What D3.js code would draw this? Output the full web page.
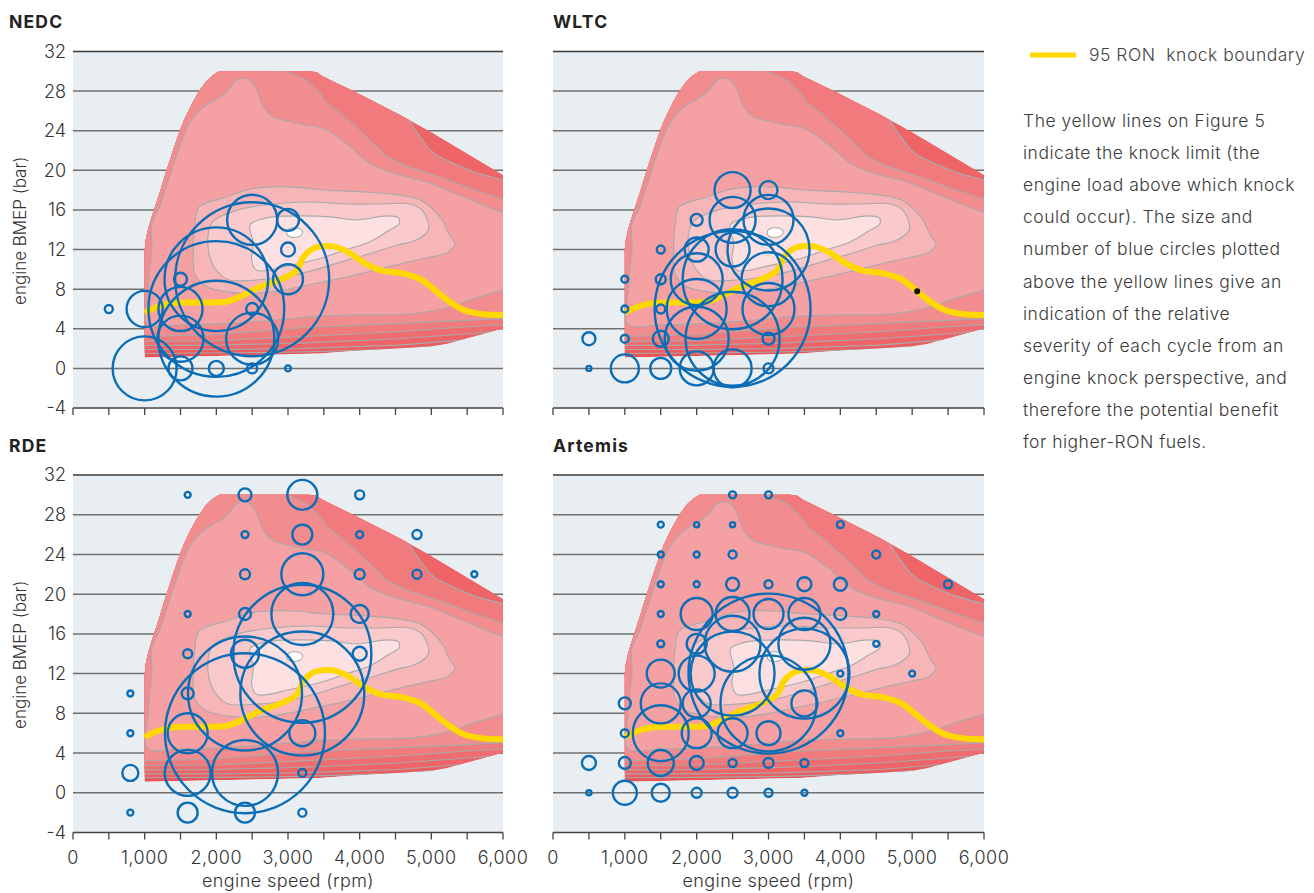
<!DOCTYPE html>
<html><head><meta charset="utf-8">
<script src="https://cdn.jsdelivr.net/npm/d3@7"></script>
<style>
body{margin:0;background:#fff;}
svg text{font-family:"Inter","Open Sans",sans-serif;font-weight:300;}
</style></head><body>
<svg id="chart" width="1314" height="893"></svg>
<script>
// ---------------- DATA ----------------
const panelNames = ["NEDC", "WLTC", "RDE", "Artemis"];
const xTickValues = [0, 1000, 2000, 3000, 4000, 5000, 6000];
const xMinorTickValues = [0, 500, 1000, 1500, 2000, 2500, 3000, 3500, 4000, 4500, 5000, 5500, 6000];
const yTickValues = [-4, 0, 4, 8, 12, 16, 20, 24, 28, 32];
const xAxisTitle = "engine speed (rpm)";
const yAxisTitle = "engine BMEP (bar)";
const legendLabel = "95 RON  knock boundary";
const noteLines = [
  "The yellow lines on Figure 5",
  "indicate the knock limit (the",
  "engine load above which knock",
  "could occur). The size and",
  "number of blue circles plotted",
  "above the yellow lines give an",
  "indication of the relative",
  "severity of each cycle from an",
  "engine knock perspective, and",
  "therefore the potential benefit",
  "for higher-RON fuels."
];

// 95 RON knock boundary [rpm, bar]
const knockRpm  = [1000, 1170, 1400, 1800, 2150, 2350, 2600, 2935, 3120, 3220, 3350, 3500, 3650, 3850, 4100, 4300, 4600, 4850, 5000, 5220, 5450, 5700, 6000];
const knockBmep = [5.6, 6.2, 6.6, 6.65, 6.75, 7.3, 8.2, 9.1, 9.9, 11.3, 12.1, 12.35, 12.3, 11.7, 10.5, 9.9, 9.6, 9.0, 8.2, 6.9, 5.9, 5.5, 5.4];

// engine map contours [rpm, bar]
const mapEnvelope = [[1000,1.1],[1000,12],[1015,13],[1045,14],[1085,15],[1130,16],[1175,17],[1220,18],[1262,19],[1305,20],[1350,21],[1395,22],[1442,23],[1490,24],[1545,25],[1610,26],[1680,27],[1760,28],[1860,29],[1950,29.6],[2040,30],[3300,30],[3400,29.9],[3480,29.5],[3935,27.9],[4563,25.6],[4981,23.9],[6000,19.5],[6000,4.05],[5214,2.5],[4981,2.2],[4000,1.8],[3446,1.5],[2000,1.25],[1000,1.1]];
const mapLineD1 = [[4500,27.5],[4680,25.2],[4760,24.2],[4842,23.4],[4950,22.3],[5075,21.5],[5307,20.7],[5600,19.8],[6000,19.0],[6200,18.8]];
const mapLineD2 = [[2900,31],[2980,30],[3260,29.1],[3446,27.8],[3540,26.8],[3725,25.8],[4051,23.7],[4377,21.4],[4656,20.4],[5121,19.3],[5540,18.2],[6000,17.1],[6200,17.0]];
const mapLineLb = [[800,3.2],[2000,3.4],[3160,4.1],[4550,4.55],[5500,4.85],[6200,5.1]];
const mapLineE4 = [[800,2.7],[2000,2.8],[3160,3.2],[4550,3.7],[5500,4.2],[6200,4.5]];
const mapLineE3 = [[800,2.3],[2000,2.35],[3160,2.55],[4550,3.0],[5500,3.5],[6200,3.9]];
const mapLineE2 = [[800,1.9],[2000,1.9],[3160,2.0],[4550,2.35],[5500,2.9],[6200,3.3]];
const mapLineE1 = [[800,1.5],[2000,1.55],[3160,1.65],[4550,1.95],[5500,2.5],[6200,2.9]];
const mapRegionD3 = [[6200,15.7],[6000,15.8],[5446,17.3],[4981,18.7],[4470,19.7],[4144,20.7],[3819,22.7],[3500,24.2],[3200,24.6],[3028,24.9],[2795,25.4],[2656,26.4],[2563,28.1],[2470,29.1],[2376,29.3],[2284,29.1],[2144,27.9],[1772,26.1],[1600,24.4],[1420,21.0],[1300,18.3],[1190,16.0],[1100,14.6],[1100,12],[1070,10],[1050,7.9],[1040,4.5],[1500,4.4],[2000,4.5],[2500,4.7],[3000,5.0],[3446,5.3],[4000,5.4],[4842,5.6],[5300,6.3],[5540,6.9],[6000,7.9],[6200,8.1]];
const mapRegionL7 = [[1760,16.3],[2144,17.3],[2418,18.0],[2703,18.3],[3100,18.3],[3540,18.0],[4098,17.8],[4560,17.5],[4850,17.0],[5000,16.2],[5150,15.0],[5250,13.5],[5330,12.6],[5230,11.7],[5030,11.3],[4650,10.7],[4200,9.9],[3800,9.2],[3400,8.6],[3000,8.0],[2600,7.6],[2200,7.7],[1850,8.3],[1700,9.5],[1680,12],[1700,14.5]];
const mapRegionL8 = [[1950,14.8],[2300,16.0],[2800,16.6],[3300,16.8],[3800,16.6],[4300,16.6],[4700,16.6],[4880,15.9],[4960,14.0],[4800,13.0],[4500,12.4],[4150,11.6],[3800,10.9],[3400,10.0],[3000,9.3],[2500,8.9],[2150,9.0],[1950,10.5],[1880,13]];
const mapRegionL9 = [[2470,14.5],[2600,15.0],[2795,15.3],[3167,15.4],[3600,15.3],[3958,15.0],[4377,15.4],[4540,15.2],[4550,14.6],[4400,13.9],[4144,12.8],[3819,12.0],[3446,11.1],[3028,10.4],[2563,9.9],[2493,10.9],[2516,12.6]];
const mapRegionWhite = [[2980,13.7],[3020,14.1],[3150,14.15],[3205,13.75],[3150,13.3],[3020,13.3]];

// knock severity circles: rpm, bar, severity (relative area)
const nedcRpm      = [500, 1000, 1000, 1500, 1500, 1500, 1500, 2000, 2000, 2000, 2000, 2500, 2500, 2500, 2500, 2500, 3000, 3000, 3000, 3000];
const nedcBmep     = [6, 6, 0, 9, 6, 3, 0, 9, 6, 3, 0, 15, 9, 6, 3, 0, 15, 12, 9, 0];
const nedcSeverity = [2.5, 51, 160, 6.6, 76, 83, 22.5, 420, 720, 525, 8.8, 98, 926, 5.6, 106, 3.9, 18.9, 7.7, 35, 1.4];

const wltcRpm      = [500, 500, 1000, 1000, 1000, 1000, 1500, 1500, 1500, 1500, 1500, 2000, 2000, 2000, 2000, 2000, 2000, 2500, 2500, 2500, 2500, 2500, 2500, 2500, 3000, 3000, 3000, 3000, 3000, 3000, 3000];
const wltcBmep     = [0, 3, 0, 3, 6, 9, 0, 3, 6, 9, 12, 15, 12, 9, 6, 3, 0, 18, 15, 12, 9, 6, 3, 0, 18, 15, 12, 9, 6, 3, 0];
const wltcSeverity = [1, 6.6, 30.6, 2.5, 1.9, 1.9, 17.2, 10, 3.2, 3.9, 2.5, 5.6, 22.5, 105.6, 140.6, 160, 45, 50.6, 82.7, 45, 390, 950, 345, 56.4, 12.7, 97.7, 262.7, 113.9, 105.6, 5.6, 3.9];

const rdeRpm      = [1600, 2400, 3200, 4000, 2400, 3200, 4000, 4800, 2400, 3200, 4000, 4800, 5600, 1600, 2400, 3200, 4000, 1600, 2400, 3200, 4000, 800, 1600, 2400, 3200, 800, 1600, 2400, 3200, 800, 1600, 2400, 3200, 800, 1600, 2400, 3200];
const rdeBmep     = [30, 30, 30, 30, 26, 26, 26, 26, 22, 22, 22, 22, 22, 18, 18, 18, 18, 14, 14, 14, 14, 10, 10, 10, 10, 6, 6, 6, 6, 2, 2, 2, 2, -2, -2, -2, -2];
const rdeSeverity = [1.4, 6.6, 35, 3.2, 1.9, 15.6, 1.9, 3.2, 3.9, 68.9, 3.9, 3.2, 1.4, 1.4, 5.6, 150, 12.7, 3.2, 30.6, 744, 7.7, 1.4, 5.6, 508, 600, 1.4, 62.5, 1000, 26.4, 10, 82.7, 170, 2.5, 1.4, 15.6, 15.6, 2.5];

const artemisRpm      = [2500, 3000, 1500, 2000, 2500, 4000, 1500, 2000, 2500, 4500, 1500, 2000, 2500, 3000, 3500, 4000, 5500, 1500, 2000, 2500, 3000, 3500, 4000, 4500, 1500, 2000, 2500, 3500, 4500, 1500, 2000, 2500, 3000, 3500, 4000, 5000, 1000, 1500, 2000, 3000, 3500, 1000, 1500, 2000, 2500, 3000, 4000, 500, 1000, 1500, 2000, 2500, 3000, 3500, 500, 1000, 1500, 2000, 2500, 3000, 3500];
const artemisBmep     = [30, 30, 27, 27, 27, 27, 24, 24, 24, 24, 21, 21, 21, 21, 21, 21, 21, 18, 18, 18, 18, 18, 18, 18, 15, 15, 15, 15, 15, 12, 12, 12, 12, 12, 12, 12, 9, 9, 9, 9, 9, 6, 6, 6, 6, 6, 6, 3, 3, 3, 3, 3, 3, 3, 0, 0, 0, 0, 0, 0, 0];
const artemisSeverity = [1.9, 1.9, 1.4, 1, 1, 1.9, 1.4, 1.4, 2.5, 2.5, 1.4, 1.4, 6.6, 2.5, 7.7, 6.6, 2.5, 1.4, 40, 45, 35, 40, 5.6, 1.4, 1.9, 15.6, 122.5, 105.6, 1.4, 30.6, 50.6, 275.6, 1000, 316, 1.4, 1.4, 5.6, 62.5, 30.6, 360, 26.4, 2.5, 122.5, 35, 35, 22.5, 1.4, 7.7, 5.6, 26.4, 7.7, 2.5, 3.9, 2.5, 1, 22.5, 12.7, 3.9, 3.9, 2.5, 1.4];

const wltcMarkerRpm = [5070];
const wltcMarkerBmep = [7.8];

// ---------------- DRAWING ----------------
const svg = d3.select("#chart");
const panels = [
  {name: panelNames[0], x0: 73,  x1: 503, yTop: 51.5, yBot: 408,   titleX: 9,   titleY: 28,  yLabels: true,  xLabels: false, rpm: nedcRpm, bmep: nedcBmep, sev: nedcSeverity},
  {name: panelNames[1], x0: 553, x1: 984, yTop: 51.5, yBot: 408,   titleX: 553, titleY: 28,  yLabels: false, xLabels: false, rpm: wltcRpm, bmep: wltcBmep, sev: wltcSeverity},
  {name: panelNames[2], x0: 73,  x1: 503, yTop: 475,  yBot: 832.5, titleX: 9,   titleY: 452, yLabels: true,  xLabels: true,  rpm: rdeRpm, bmep: rdeBmep, sev: rdeSeverity},
  {name: panelNames[3], x0: 553, x1: 984, yTop: 475,  yBot: 832.5, titleX: 553, titleY: 452, yLabels: false, xLabels: true,  rpm: artemisRpm, bmep: artemisBmep, sev: artemisSeverity}
];

const rScale = d3.scaleSqrt().domain([0, 1000]).range([0, 80]);
const defs = svg.append("defs");

const openTop = [[800, 40], [6200, 40]];
const topD1 = [[800, 40], [4300, 40]].concat(mapLineD1);
const topD2 = [[800, 40], [2800, 40]].concat(mapLineD2);
function region(top, bottom) { return top.concat(bottom.slice().reverse()); }

const bands = [
  {pts: region(openTop, mapLineE1), fill: "#ec5c60"},
  {pts: region(openTop, mapLineE2), fill: "#ee6467"},
  {pts: region(topD1, mapLineE3), fill: "#ef6d70"},
  {pts: region(topD1, mapLineE4), fill: "#f17a7d"},
  {pts: region(topD2, mapLineLb), fill: "#f38c8f"},
  {pts: mapRegionD3, fill: "#f5a0a3"},
  {pts: mapRegionL7, fill: "#f7b5b8"},
  {pts: mapRegionL8, fill: "#f9c9cc"},
  {pts: mapRegionL9, fill: "#fce0e2"},
  {pts: mapRegionWhite, fill: "#ffffff"}
];

panels.forEach((p, i) => {
  const x = d3.scaleLinear().domain([0, 6000]).range([p.x0, p.x1]);
  const y = d3.scaleLinear().domain([-4, 32]).range([p.yBot, p.yTop]);
  const g = svg.append("g");

  g.append("rect").attr("x", x(0)).attr("y", y(32)).attr("width", x(6000) - x(0)).attr("height", y(-4) - y(32)).attr("fill", "#e8eef2");

  g.selectAll(".grid").data(yTickValues.filter(v => v > -4)).join("line")
    .attr("x1", x(0)).attr("x2", x(6000)).attr("y1", d => y(d)).attr("y2", d => y(d))
    .attr("stroke", d => d === 32 ? "#3a3a3a" : "#707070").attr("stroke-width", 1.5);

  const clipId = "env" + i;
  const lineLin = d3.line().x(d => x(d[0])).y(d => y(d[1])).curve(d3.curveLinearClosed);
  const lineSmooth = d3.line().x(d => x(d[0])).y(d => y(d[1])).curve(d3.curveCatmullRomClosed.alpha(0.5));
  defs.append("clipPath").attr("id", clipId).append("path").attr("d", lineLin(mapEnvelope));
  const cg = g.append("g").attr("clip-path", `url(#${clipId})`);
  cg.append("path").attr("d", lineLin(mapEnvelope)).attr("fill", "#ea5457");
  bands.forEach((b, k) => {
    cg.append("path").attr("d", (k < 5 ? lineLin : lineSmooth)(b.pts))
      .attr("fill", b.fill).attr("stroke", "#a9a9a9").attr("stroke-width", 1.1);
  });

  const knock = knockRpm.map((r, j) => [r, knockBmep[j]]);
  g.append("path").attr("d", d3.line().x(d => x(d[0])).y(d => y(d[1])).curve(d3.curveCatmullRom.alpha(0.5))(knock))
    .attr("fill", "none").attr("stroke", "#ffd800").attr("stroke-width", 6);

  if (i === 1) {
    g.selectAll(".mark").data(wltcMarkerRpm).join("circle")
      .attr("cx", d => x(d)).attr("cy", (d, j) => y(wltcMarkerBmep[j])).attr("r", 3).attr("fill", "#111");
  }

  const pts = p.rpm.map((r, j) => ({r: r, b: p.bmep[j], s: p.sev[j]})).sort((a, b) => b.s - a.s);
  g.selectAll(".bub").data(pts).join("circle")
    .attr("cx", d => x(d.r)).attr("cy", d => y(d.b)).attr("r", d => rScale(d.s))
    .attr("fill", "none").attr("stroke", "#0a6db5").attr("stroke-width", 2.4);

  g.append("line").attr("x1", x(0)).attr("x2", x(6000)).attr("y1", y(-4)).attr("y2", y(-4)).attr("stroke", "#444").attr("stroke-width", 1.5);
  g.selectAll(".tick").data(xMinorTickValues).join("line")
    .attr("x1", d => x(d)).attr("x2", d => x(d)).attr("y1", y(-4)).attr("y2", y(-4) + 7)
    .attr("stroke", "#444").attr("stroke-width", 1.3);
  if (p.xLabels) {
    g.selectAll(".xl").data(xTickValues).join("text")
      .attr("x", d => x(d)).attr("y", y(-4) + 31).attr("text-anchor", "middle")
      .attr("font-size", 18).attr("letter-spacing", 0.5).attr("fill", "#333").text(d => d3.format(",")(d));
    g.append("text").attr("x", x(3000)).attr("y", y(-4) + 54).attr("text-anchor", "middle")
      .attr("font-size", 18).attr("letter-spacing", 0.4).attr("fill", "#333").text(xAxisTitle);
  }
  if (p.yLabels) {
    g.selectAll(".yl").data(yTickValues).join("text")
      .attr("x", x(0) - 7).attr("y", d => y(d)).attr("dy", "0.36em").attr("text-anchor", "end")
      .attr("font-size", 18).attr("fill", "#333").text(d => d);
    g.append("text").attr("transform", `translate(26,${(y(32) + y(-4)) / 2 + 1}) rotate(-90)`)
      .attr("text-anchor", "middle").attr("font-size", 17).attr("fill", "#333").text(yAxisTitle);
  }
  g.append("text").attr("x", p.titleX).attr("y", p.titleY).attr("font-size", 17.5).style("font-weight", 700)
    .attr("letter-spacing", 1.2).attr("fill", "#222").text(p.name);
});

svg.append("line").attr("x1", 1030).attr("x2", 1076).attr("y1", 55).attr("y2", 55).attr("stroke", "#ffd800").attr("stroke-width", 5);
svg.append("text").attr("x", 1089).attr("y", 61).attr("font-size", 17.5).attr("letter-spacing", 0.5).attr("fill", "#444")
  .style("white-space", "pre").text(legendLabel);

svg.append("g").selectAll("text").data(noteLines).join("text")
  .attr("x", 1023).attr("y", (d, i) => 127 + i * 32.1).attr("font-size", 17.5).attr("letter-spacing", 0.5)
  .attr("fill", "#3a3a3a").text(d => d);
</script>
</body></html>
